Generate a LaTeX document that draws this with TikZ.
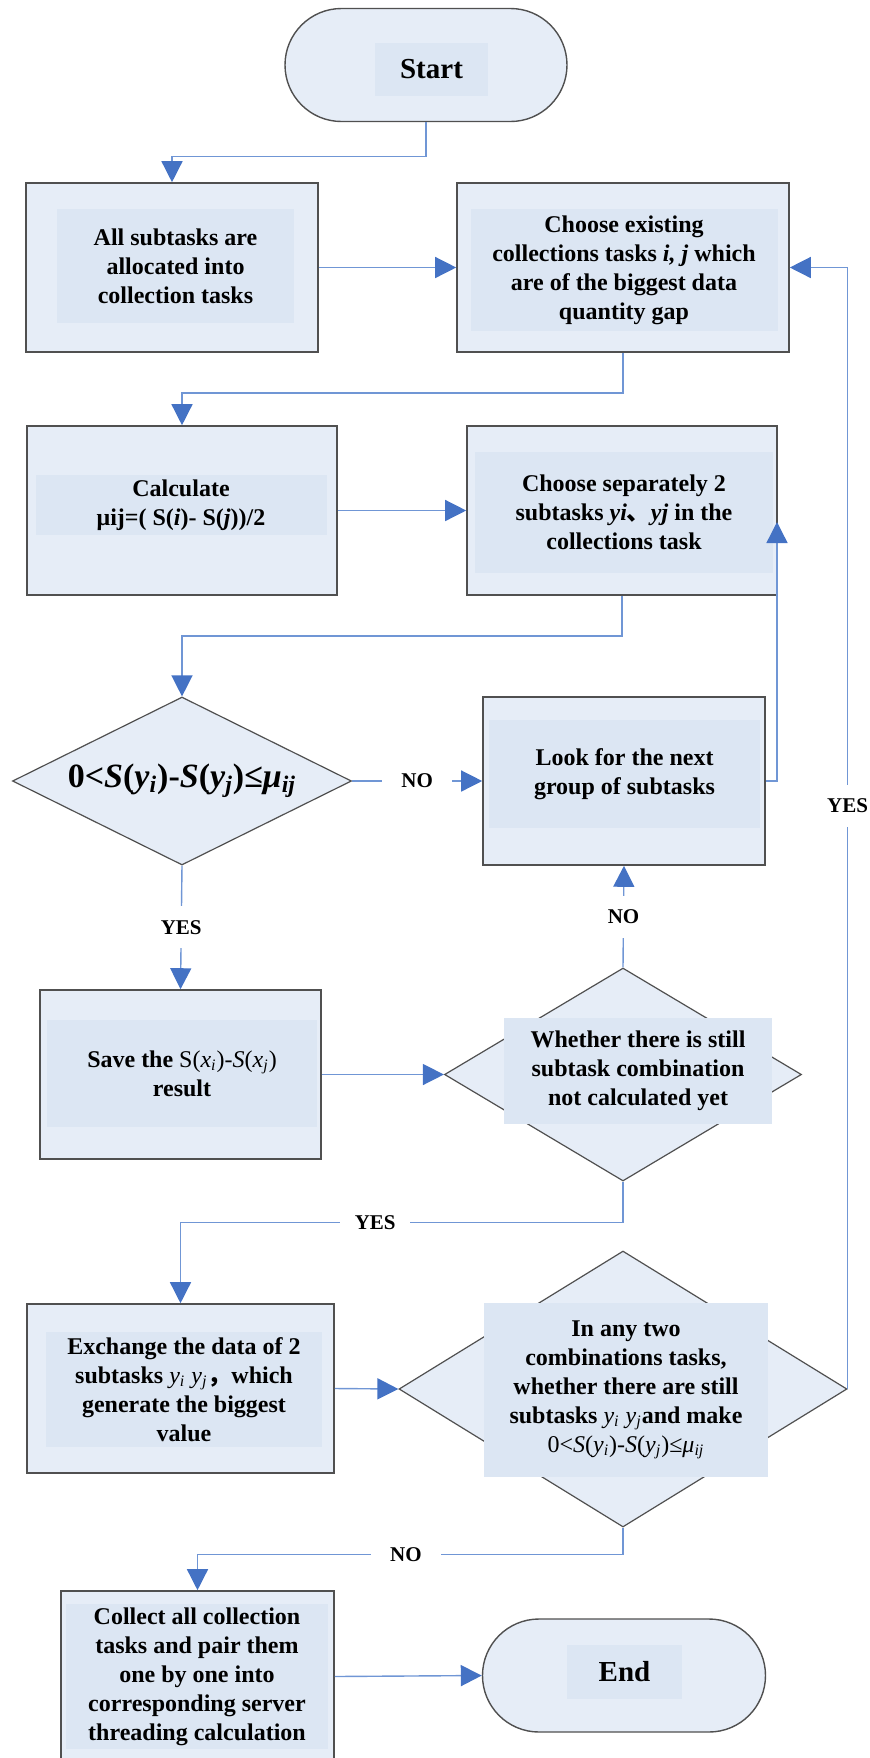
\documentclass[tikz,border=0pt]{standalone}
\usepackage{fontspec}
\setmainfont{Liberation Serif}
\newfontfamily\cjk{Noto Sans CJK SC}
\usetikzlibrary{arrows.meta, shapes.geometric, shapes.misc}
\definecolor{boxfill}{RGB}{230,237,247}
\definecolor{txtfill}{RGB}{220,230,243}
\definecolor{boxline}{RGB}{80,80,80}
\definecolor{flowline}{RGB}{112,150,213}
\definecolor{flowtip}{RGB}{68,114,196}
\tikzset{every node/.style={font=\bfseries\fontsize{12}{14.5}\selectfont},
         flowbox/.style={draw=boxline, fill=boxfill, line width=0.8pt, inner sep=0pt},
         decide/.style={diamond, draw=boxline, fill=boxfill, line width=0.6pt, inner sep=0pt},
         term/.style={rounded rectangle, draw=boxline, fill=boxfill, line width=0.7pt, inner sep=0pt},
         txtbox/.style={fill=txtfill, inner sep=0pt, align=center},
         flow/.style={draw=flowline, line width=0.7pt,
                      -{Triangle[length=10.5pt, width=10.5pt, color=flowtip]}},
         lbl/.style={fill=white, inner sep=0pt, minimum width=35pt, minimum height=21pt,
                     font=\bfseries\fontsize{10.5}{12}\selectfont}}

\begin{document}
\begin{tikzpicture}[x=0.5pt, y=-0.5pt]
\useasboundingbox (0,0) rectangle (869,1758);

% outlines
\node[term, minimum width=141pt, minimum height=56.5pt] (start) at (426,65) {};
\node[flowbox, minimum width=146pt, minimum height=84.5pt] (box1) at (172,267.5) {};
\node[flowbox, minimum width=166pt, minimum height=84.5pt] (box2) at (623,267.5) {};
\node[flowbox, minimum width=155pt, minimum height=84.5pt] (box3) at (182,510.5) {};
\node[flowbox, minimum width=155pt, minimum height=84.5pt] (box4) at (622,510.5) {};
\node[decide, minimum width=169.5pt, minimum height=84pt] (d1) at (182,781) {};
\node[flowbox, minimum width=141pt, minimum height=84pt] (box5) at (624,781) {};
\node[flowbox, minimum width=140.5pt, minimum height=84.5pt] (box6) at (180.5,1074.5) {};
\node[decide, minimum width=178.5pt, minimum height=106.5pt] (d2) at (623,1074.5) {};
\node[flowbox, minimum width=153.5pt, minimum height=84.5pt] (box7) at (180.5,1388.5) {};
\node[decide, minimum width=224pt, minimum height=138pt] (d3) at (623,1389) {};
\node[flowbox, minimum width=136.5pt, minimum height=85.5pt] (box8) at (197.5,1676.5) {};
\node[term, minimum width=141.5pt, minimum height=56.5pt] (end) at (624,1675.5) {};

% texts
\node[txtbox, minimum width=56.5pt, minimum height=26.5pt, font=\bfseries\fontsize{14.5}{16}\selectfont]
  (starttxt) at (431.5,69.5) {Start};
\node[txtbox, minimum width=118.5pt, minimum height=57pt] (box1txt) at (175.5,266)
  {All subtasks are\\allocated into\\collection tasks};
\node[txtbox, minimum width=153.5pt, minimum height=61pt] (box2txt) at (624,270)
  {Choose existing\\collections tasks \textit{i, j} which\\are of the biggest data\\quantity gap};
\node[txtbox, minimum width=145.5pt, minimum height=30pt] (box3txt) at (181,505)
  {Calculate\\μij=( S(\textit{i})- S(\textit{j}))/2};
\node[txtbox, minimum width=149pt, minimum height=60.5pt] (box4txt) at (624,512)
  {Choose separately 2\\subtasks \textit{yi}{\cjk 、}\textit{yj} in the\\collections task};
\node[font=\bfseries\fontsize{17}{19}\selectfont] (d1txt) at (182,781)
  {0<\textit{S}(\textit{y}\textsubscript{\textit{i}})-\textit{S}(\textit{y}\textsubscript{\textit{j}})≤\textit{μ}\textsubscript{\textit{ij}}};
\node[txtbox, minimum width=135.5pt, minimum height=54pt] (box5txt) at (624.5,774)
  {Look for the next\\group of subtasks};
\node[txtbox, minimum width=135pt, minimum height=53.5pt] (box6txt) at (182,1073.5)
  {Save the {\mdseries S(\textit{x}\textsubscript{\textit{i}})-\textit{S}(\textit{x}\textsubscript{\textit{j}})}\\result};
\node[txtbox, minimum width=134pt, minimum height=53pt] (d2txt) at (638,1071)
  {Whether there is still\\subtask combination\\not calculated yet};
\node[txtbox, minimum width=138pt, minimum height=57.5pt] (box7txt) at (184,1389.5)
  {Exchange the data of 2\\subtasks {\mdseries\itshape y\textsubscript{i} y\textsubscript{j}}{\cjk ，}which\\generate the biggest\\value};
\node[txtbox, minimum width=142pt, minimum height=87pt] (d3txt) at (626,1390)
  {In any two\\combinations tasks,\\whether there are still\\subtasks {\mdseries\itshape y\textsubscript{i} y\textsubscript{j}}and make\\{\mdseries 0<\textit{S}(\textit{y}\textsubscript{\textit{i}})-\textit{S}(\textit{y}\textsubscript{\textit{j}})≤\textit{μ}\textsubscript{\textit{ij}}}};
\node[txtbox, minimum width=131pt, minimum height=72.5pt] (box8txt) at (197,1676.5)
  {Collect all collection\\tasks and pair them\\one by one into\\corresponding server\\threading calculation};
\node[txtbox, minimum width=57.5pt, minimum height=27pt, font=\bfseries\fontsize{14.5}{16}\selectfont]
  (endtxt) at (624.5,1672) {End};

% connectors
\coordinate (back) at (777,522);
\draw[flow] (start.south) -- ++(0,34) -| (box1.north);
\draw[flow] (box1.east) -- (box2.west);
\draw[flow] (box2.south) -- ++(0,40) -| (box3.north);
\draw[flow] (box3.east) -- (box4.west);
\draw[flow] (box4.south) -- ++(0,40) -| (d1.north);
\draw[flow] (d1.east) -- node[lbl]{NO} (box5.west);
\draw[flow] (box5.east) -| (back);
\draw[flow] (d1.south) -- node[lbl]{YES} (box6.north);
\draw[flow] (box6.east) -- (d2.west);
\draw[flow] (d2.north) -- node[lbl]{NO} (box5.south);
\draw[flow] (d2.south) -- ++(0,41) -| node[lbl, pos=0.28]{YES} (box7.north);
\draw[flow] (box7.east) -- (d3.west);
\draw[flow] (d3.east) |- node[lbl, pos=0.26]{YES} (box2.east);
\draw[flow] (d3.south) -- ++(0,27) -| node[lbl, pos=0.255]{NO} (box8.north);
\draw[flow] (box8.east) -- (end.west);
\end{tikzpicture}
\end{document}
